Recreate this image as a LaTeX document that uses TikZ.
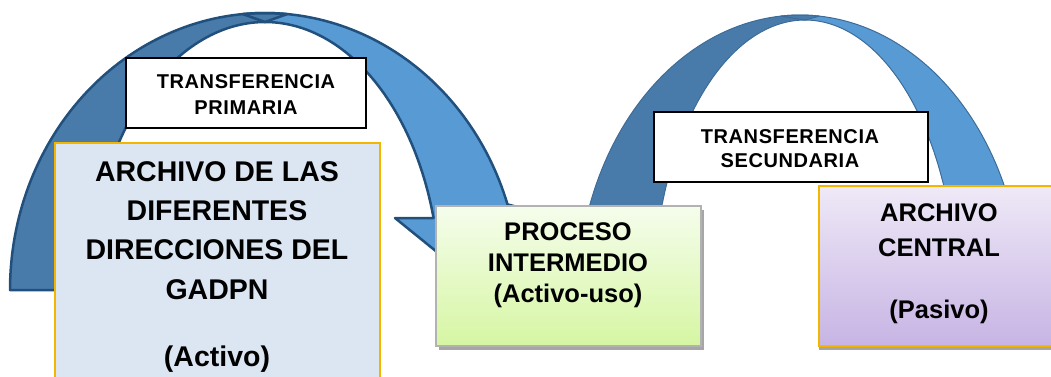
\documentclass[tikz,border=0pt]{standalone}
\usepackage{fontspec}
\setmainfont{Liberation Sans}
\newfontfamily\lblfont{Liberation Sans}[LetterSpace=3]
\usetikzlibrary{shadows}
\definecolor{darkband}{RGB}{72,122,170}
\definecolor{lightband}{RGB}{88,154,212}
\definecolor{leftedge}{RGB}{33,80,125}
\definecolor{rightedge}{RGB}{62,108,152}
\definecolor{goldedge}{RGB}{242,182,0}
\definecolor{boxblue}{RGB}{220,230,242}
\definecolor{greentop}{RGB}{245,253,236}
\definecolor{greenbot}{RGB}{214,246,163}
\definecolor{purptop}{RGB}{239,233,247}
\definecolor{purpbot}{RGB}{199,180,228}
\definecolor{shadowgray}{RGB}{166,166,166}
\begin{document}
\begin{tikzpicture}[x=1pt,y=-1pt,
  lbl/.style={draw=black, line width=1.5pt, fill=white, inner sep=0pt, anchor=north west},
  lbltext/.style={anchor=base, inner sep=0pt, font=\lblfont\bfseries\fontsize{20}{24}\selectfont},
  bigtext/.style={anchor=base, inner sep=0pt, font=\bfseries\fontsize{28.5}{34}\selectfont},
  midtext/.style={anchor=base, inner sep=0pt, font=\bfseries\fontsize{25.5}{30}\selectfont},
  colbox/.style={inner sep=0pt, anchor=north west, line width=1.5pt},
  leftarch/.style={draw=leftedge, line width=2.5pt, line join=round},
  rightarch/.style={draw=rightedge, line width=1pt, line join=round}
]
\useasboundingbox (0,0) rectangle (1051,376);
% ---------- left arch ----------
\coordinate (c1) at (265,22);
\coordinate (tip1) at (474,282);
\coordinate (lb1) at (395,218);
\coordinate (rb1) at (545,214);
\fill[lightband] plot[domain=95:18,samples=60] ({265+255*cos(\x)},{290-277*sin(\x)})
  -- (rb1) -- (tip1) -- (lb1) -- (433,218)
  -- plot[domain=15.6:90,samples=60] ({265+175*cos(\x)},{290-268*sin(\x)}) -- cycle;
\fill[darkband] plot[domain=180:85,samples=70] ({265+255*cos(\x)},{290-277*sin(\x)})
  -- (c1) -- plot[domain=90:180,samples=70] ({265+175*cos(\x)},{290-268*sin(\x)}) -- cycle;
\draw[leftarch] plot[domain=95:18,samples=60] ({265+255*cos(\x)},{290-277*sin(\x)})
  -- (rb1) -- (tip1) -- (lb1) -- (433,218)
  -- plot[domain=15.6:90,samples=60] ({265+175*cos(\x)},{290-268*sin(\x)}) -- cycle;
\draw[leftarch] plot[domain=180:85,samples=70] ({265+255*cos(\x)},{290-277*sin(\x)})
  -- (c1) -- plot[domain=90:180,samples=70] ({265+175*cos(\x)},{290-268*sin(\x)}) -- cycle;
% ---------- right arch ----------
\coordinate (c2) at (805,20);
\fill[lightband] plot[domain=95:0,samples=60] ({800+223*cos(\x)},{300-285*sin(\x)})
  -- plot[domain=0:90,samples=60] ({805+152*cos(\x)},{300-280*sin(\x)}) -- cycle;
\fill[darkband] plot[domain=180:85,samples=60] ({800+223*cos(\x)},{300-285*sin(\x)})
  -- (c2) -- plot[domain=90:180,samples=60] ({805+152*cos(\x)},{300-280*sin(\x)}) -- cycle;
\draw[rightarch] plot[domain=95:0,samples=60] ({800+223*cos(\x)},{300-285*sin(\x)})
  -- plot[domain=0:90,samples=60] ({805+152*cos(\x)},{300-280*sin(\x)}) -- cycle;
\draw[rightarch] plot[domain=180:85,samples=60] ({800+223*cos(\x)},{300-285*sin(\x)})
  -- (c2) -- plot[domain=90:180,samples=60] ({805+152*cos(\x)},{300-280*sin(\x)}) -- cycle;
% ---------- label boxes ----------
\node[lbl, minimum width=240pt, minimum height=70pt] (lab1) at (125,57) {};
\node[lbltext] (lab1a) at (246,88.5) {TRANSFERENCIA};
\node[lbltext] (lab1b) at (246,114) {PRIMARIA};
\node[lbl, minimum width=274pt, minimum height=70pt] (lab2) at (653,111) {};
\node[lbltext] (lab2a) at (790,143) {TRANSFERENCIA};
\node[lbltext] (lab2b) at (790,167) {SECUNDARIA};
% ---------- coloured boxes ----------
\node[colbox, draw=goldedge, fill=boxblue, minimum width=325pt, minimum height=250pt] (box1) at (54,142) {};
\node[bigtext] (b1a) at (217,181) {ARCHIVO DE LAS};
\node[bigtext] (b1b) at (217,220) {DIFERENTES};
\node[bigtext] (b1c) at (217,259.5) {DIRECCIONES DEL};
\node[bigtext] (b1d) at (217,299) {GADPN};
\node[bigtext] (b1e) at (217,366) {(Activo)};
\node[colbox, draw={rgb,255:red,178;green,178;blue,178}, top color=greentop, bottom color=greenbot,
  minimum width=265pt, minimum height=140pt,
  drop shadow={shadow xshift=3.5pt, shadow yshift=-4.5pt, fill=shadowgray, opacity=1}] (box2) at (435,205) {};
\node[midtext] (b2a) at (568,240) {PROCESO};
\node[midtext] (b2b) at (568,271) {INTERMEDIO};
\node[midtext] (b2c) at (568,302) {(Activo-uso)};
\node[colbox, draw=goldedge, top color=purptop, bottom color=purpbot,
  minimum width=250pt, minimum height=160pt,
  drop shadow={shadow xshift=0pt, shadow yshift=-4.5pt, fill=shadowgray, opacity=1}] (box3) at (818,185) {};
\node[midtext] (b3a) at (939,221) {ARCHIVO};
\node[midtext] (b3b) at (939,256) {CENTRAL};
\node[midtext] (b3c) at (939,318) {(Pasivo)};
\end{tikzpicture}
\end{document}
